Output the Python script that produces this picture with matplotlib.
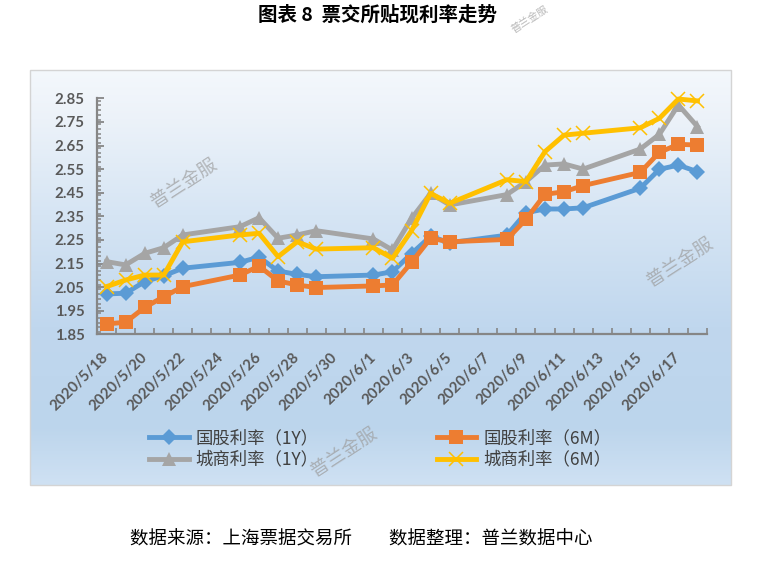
import numpy as np
import pandas as pd
import matplotlib
matplotlib.use("Agg")
import matplotlib.pyplot as plt
from matplotlib.colors import LinearSegmentedColormap
from matplotlib.patches import Rectangle
from matplotlib.ticker import MultipleLocator, FixedLocator, FormatStrFormatter

# ---------------- data ----------------
dates = ["2020-05-18", "2020-05-19", "2020-05-20", "2020-05-21", "2020-05-22",
         "2020-05-25", "2020-05-26", "2020-05-27", "2020-05-28", "2020-05-29",
         "2020-06-01", "2020-06-02", "2020-06-03", "2020-06-04", "2020-06-05",
         "2020-06-08", "2020-06-09", "2020-06-10", "2020-06-11", "2020-06-12",
         "2020-06-15", "2020-06-16", "2020-06-17", "2020-06-18"]

gg_1y = [2.021, 2.024, 2.073, 2.098, 2.130, 2.155, 2.177, 2.118, 2.104, 2.094,
         2.101, 2.115, 2.192, 2.265, 2.238, 2.270, 2.365, 2.381, 2.381, 2.386,
         2.469, 2.549, 2.567, 2.539]
gg_6m = [1.894, 1.901, 1.964, 2.009, 2.052, 2.101, 2.139, 2.076, 2.059, 2.048,
         2.055, 2.059, 2.155, 2.257, 2.242, 2.252, 2.337, 2.443, 2.454, 2.480,
         2.536, 2.621, 2.655, 2.652]
cs_1y = [2.158, 2.144, 2.193, 2.217, 2.271, 2.306, 2.344, 2.257, 2.271, 2.289,
         2.254, 2.207, 2.341, 2.447, 2.398, 2.442, 2.497, 2.567, 2.572, 2.550,
         2.635, 2.697, 2.822, 2.730]
cs_6m = [2.052, 2.080, 2.101, 2.101, 2.242, 2.271, 2.278, 2.179, 2.242, 2.211,
         2.217, 2.172, 2.289, 2.447, 2.405, 2.505, 2.497, 2.624, 2.694, 2.702,
         2.725, 2.765, 2.847, 2.839]

series_names = ["国股利率（1Y）", "国股利率（6M）", "城商利率（1Y）", "城商利率（6M）"]

y_ticks = [1.85, 1.95, 2.05, 2.15, 2.25, 2.35, 2.45, 2.55, 2.65, 2.75, 2.85]

tick_labels = ["2020/5/18", "2020/5/20", "2020/5/22", "2020/5/24", "2020/5/26",
               "2020/5/28", "2020/5/30", "2020/6/1", "2020/6/3", "2020/6/5",
               "2020/6/7", "2020/6/9", "2020/6/11", "2020/6/13", "2020/6/15",
               "2020/6/17"]

title = "图表 8  票交所贴现利率走势"
source = "数据来源：上海票据交易所　　数据整理：普兰数据中心"
watermark = "普兰金服"

# ---------------- figure ----------------
W, H = 773, 568
fig = plt.figure(figsize=(W / 100, H / 100), dpi=100)
fig.patch.set_facecolor("white")

def fx(px):
    return px / W

def fy(py):
    return 1 - py / H

CJK = ["Noto Sans CJK SC", "DejaVu Sans"]

# chart-area gradient background
ca_l, ca_t, ca_r, ca_b = 29.5, 69.5, 730.5, 485.0
bg = fig.add_axes([fx(ca_l), fy(ca_b), fx(ca_r - ca_l), (ca_b - ca_t) / H])
cmap = LinearSegmentedColormap.from_list(
    "bg",
    [(0.0, "#f4f8fc"), (0.12, "#ecf2f9"), (0.35, "#d6e5f4"),
     (0.62, "#c0d7ee"), (0.86, "#bcd5ec"), (1.0, "#cfe1f3")])
grad = np.linspace(0, 1, 256).reshape(-1, 1)
bg.imshow(grad, aspect="auto", cmap=cmap, extent=[0, 1, 1, 0])
bg.set_xlim(0, 1)
bg.set_ylim(1, 0)
bg.axis("off")
fig.patches.append(Rectangle((fx(ca_l), fy(ca_b)), fx(ca_r - ca_l), (ca_b - ca_t) / H,
                             transform=fig.transFigure, fill=False,
                             edgecolor="#d4d4d4", linewidth=1.0, zorder=1))

# main axes
pl, pr, pt, pb = 97.0, 707.0, 98.3, 334.3
ax = fig.add_axes([fx(pl), fy(pb), fx(pr - pl), (pb - pt) / H])
ax.patch.set_alpha(0)

start = pd.Timestamp("2020-05-18")
xs = (pd.to_datetime(dates) - start).days.values.astype(float)

styles = [
    dict(color="#5b9bd5", marker="D", ms=8.5, mew=0),
    dict(color="#ed7d31", marker="s", ms=10, mew=0),
    dict(color="#a5a5a5", marker="^", ms=10.5, mew=0),
    dict(color="#ffc000", marker="x", ms=10, mew=1.1),
]
handles = []
for vals, name, st in zip([gg_1y, gg_6m, cs_1y, cs_6m], series_names, styles):
    h, = ax.plot(xs, vals, lw=3.5, solid_joinstyle="round", label=name,
                 color=st["color"], marker=st["marker"], markersize=st["ms"],
                 markeredgewidth=st["mew"], markeredgecolor=st["color"],
                 markerfacecolor=st["color"], clip_on=False)
    handles.append(h)

n_days = 32
ax.set_xlim(-0.5, n_days - 0.5)
ax.set_ylim(1.85, 2.85)

axis_col = "#868686"
for s in ["top", "right"]:
    ax.spines[s].set_visible(False)
for s in ["left", "bottom"]:
    ax.spines[s].set_color(axis_col)
    ax.spines[s].set_linewidth(1.6)

# y ticks
ax.yaxis.set_major_locator(FixedLocator(y_ticks))
ax.yaxis.set_minor_locator(MultipleLocator(0.02))
ax.yaxis.set_major_formatter(FormatStrFormatter("%.2f"))
ax.tick_params(axis="y", which="major", direction="in", length=5, width=1.3,
               color=axis_col, pad=9, labelsize=10.8, labelcolor="#595959")
ax.tick_params(axis="y", which="minor", direction="in", length=3, width=1.1,
               color=axis_col)

# x ticks: labels at every 2nd day, tick marks at day boundaries
ax.xaxis.set_major_locator(FixedLocator(np.arange(0, n_days, 2)))
ax.set_xticklabels(tick_labels)
ax.xaxis.set_minor_locator(FixedLocator(np.arange(-0.5, n_days, 1.0)))
ax.tick_params(axis="x", which="major", length=0, pad=15, labelsize=10.8,
               labelcolor="#595959")
ax.tick_params(axis="x", which="minor", direction="in", length=4, width=1.2,
               color=axis_col)
for lab in ax.get_xticklabels():
    lab.set_rotation(45)
    lab.set_ha("right")
    lab.set_va("center")
    lab.set_rotation_mode("anchor")
    lab.set_fontweight("bold")
    lab.set_family(["Lato", "DejaVu Sans"])
for lab in ax.get_yticklabels():
    lab.set_fontweight("bold")
    lab.set_family(["Lato", "DejaVu Sans"])

# legend
leg = fig.legend([handles[0], handles[2], handles[1], handles[3]],
                 [series_names[0], series_names[2], series_names[1], series_names[3]],
                 ncol=2, loc="center", bbox_to_anchor=(fx(380), fy(449)),
                 frameon=False, prop={"family": CJK, "size": 12.5},
                 handlelength=2.3, handletextpad=0.4, columnspacing=6.8,
                 labelspacing=0.2)
for t in leg.get_texts():
    t.set_color("#404040")

# title and source
fig.text(fx(378), fy(15), title, ha="center", va="center", fontsize=14,
         fontweight="bold", family=CJK, color="#000000")
fig.text(fx(361), fy(540), source, ha="center", va="center", fontsize=13.3,
         family=CJK, color="#000000")

# watermarks
for (wx, wy, fs) in [(184, 183, 13.5), (680, 262, 13.5), (344, 452, 13.5), (530, 19, 7.5)]:
    fig.text(fx(wx), fy(wy), watermark, ha="center", va="center", fontsize=fs,
             rotation=33, family=CJK, color="#9c9c9c", alpha=0.7, zorder=10)

fig.savefig("out.png", dpi=100)
